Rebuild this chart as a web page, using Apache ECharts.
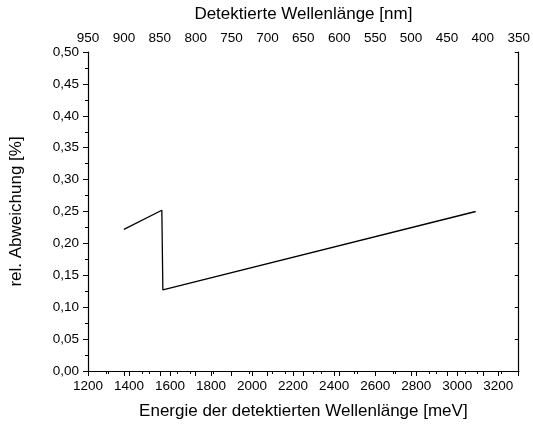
<!DOCTYPE html>
<html>
<head>
<meta charset="utf-8">
<script src="https://cdn.jsdelivr.net/npm/echarts@6/dist/echarts.min.js"></script>
<style>html,body{margin:0;padding:0;background:#fff;}#c{width:533px;height:425px;}</style>
</head>
<body>
<div id="c"></div>
<script>
// Data
var energy = [1375, 1560, 1565, 3090];          // meV
var deviation = [0.222, 0.252, 0.127, 0.250];  // %
var bottomTitle = 'Energie der detektierten Wellenlänge [meV]';
var topTitle = 'Detektierte Wellenlänge [nm]';
var yTitle = 'rel. Abweichung [%]';

var points = energy.map(function (e, i) { return [e, deviation[i]]; });
var font = 'Liberation Sans, Arial, sans-serif';
var chart = echarts.init(document.getElementById('c'), null, {renderer: 'canvas'});
var axisLine = {show: true, lineStyle: {color: '#000', width: 1.2}};
chart.setOption({
  animation: false,
  backgroundColor: '#fff',
  grid: {left: 88, right: 12, top: 52, bottom: 54, containLabel: false},
  xAxis: [{
    type: 'value', position: 'bottom', min: 1200, max: 3300, interval: 200,
    name: bottomTitle, nameLocation: 'middle', nameGap: 32,
    nameTextStyle: {fontFamily: font, fontSize: 17, color: '#000'},
    axisLine: axisLine,
    axisTick: {show: true, inside: false, length: 5, lineStyle: {color: '#000', width: 1}},
    minorTick: {show: true, splitNumber: 2, length: 3, lineStyle: {color: '#000', width: 1}},
    axisLabel: {fontFamily: font, fontSize: 13.5, color: '#000', margin: 8, showMaxLabel: false,
      formatter: function (v) { return String(v); }},
    splitLine: {show: false}
  }, {
    type: 'value', position: 'top', min: 350, max: 950, interval: 50, inverse: true,
    name: topTitle, nameLocation: 'middle', nameGap: 29,
    nameTextStyle: {fontFamily: font, fontSize: 17, color: '#000'},
    axisLine: axisLine,
    axisTick: {show: true, inside: true, length: 5, lineStyle: {color: '#000', width: 1}},
    minorTick: {show: true, splitNumber: 2, length: 3, lineStyle: {color: '#000', width: 1}},
    axisLabel: {fontFamily: font, fontSize: 13.5, color: '#000', margin: 7,
      formatter: function (v) { return String(v); }},
    splitLine: {show: false}
  }],
  yAxis: [{
    type: 'value', position: 'left', min: 0, max: 0.5, interval: 0.05,
    name: yTitle, nameLocation: 'middle', nameGap: 63, nameRotate: 90,
    nameTextStyle: {fontFamily: font, fontSize: 17, color: '#000'},
    axisLine: axisLine,
    axisTick: {show: true, inside: false, length: 5, lineStyle: {color: '#000', width: 1}},
    minorTick: {show: true, splitNumber: 2, length: 3, lineStyle: {color: '#000', width: 1}},
    axisLabel: {fontFamily: font, fontSize: 13.5, color: '#000', margin: 9,
      formatter: function (v) { return v.toFixed(2).replace('.', ','); }},
    splitLine: {show: false}
  }, {
    type: 'value', position: 'right', min: 0, max: 0.5, interval: 0.05,
    axisLine: axisLine,
    axisTick: {show: true, inside: true, length: 4, lineStyle: {color: '#000', width: 1}},
    minorTick: {show: false},
    axisLabel: {show: false},
    splitLine: {show: false}
  }],
  series: [{
    type: 'line', xAxisIndex: 0, yAxisIndex: 0, data: points,
    symbol: 'none', lineStyle: {color: '#000', width: 1.3}
  }]
});
</script>
</body>
</html>
